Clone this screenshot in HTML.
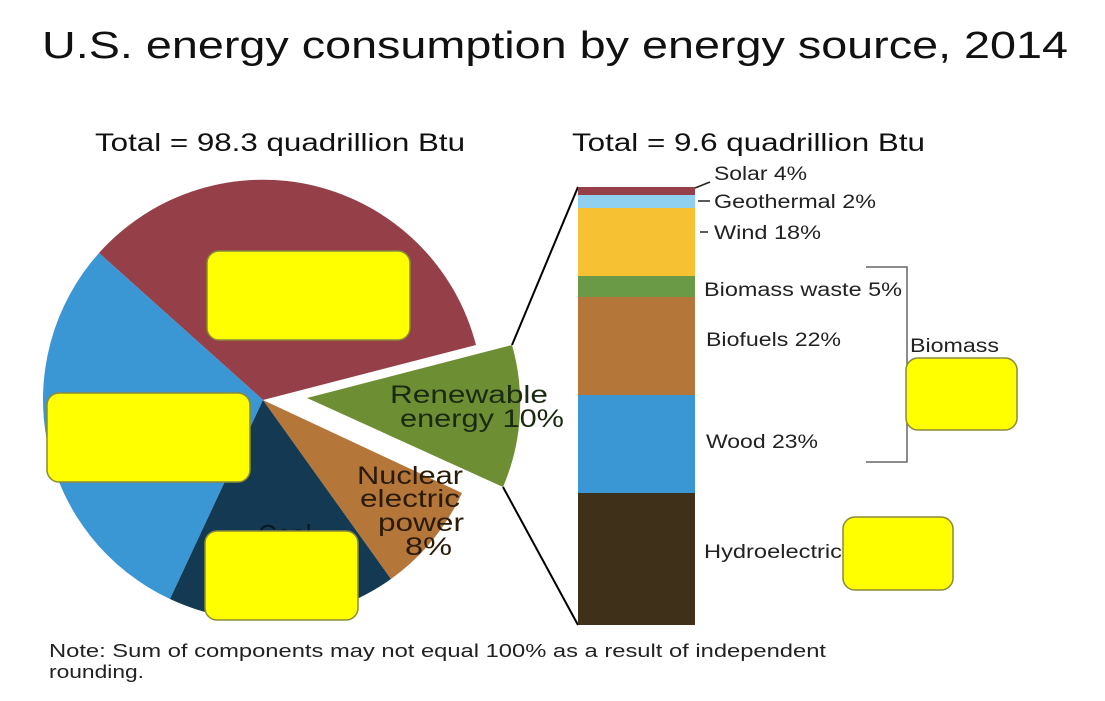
<!DOCTYPE html>
<html><head><style>
body{margin:0;background:#fff;}
svg{display:block;font-family:"Liberation Sans",sans-serif;}
</style></head><body>
<svg width="1105" height="701" viewBox="0 0 1105 701">
<text x="42" y="58" font-size="38" textLength="1026" lengthAdjust="spacingAndGlyphs" fill="#111">U.S. energy consumption by energy source, 2014</text>
<text x="95" y="151" font-size="25" textLength="370" lengthAdjust="spacingAndGlyphs" fill="#111">Total = 98.3 quadrillion Btu</text>
<text x="572" y="151" font-size="25" textLength="353" lengthAdjust="spacingAndGlyphs" fill="#111">Total = 9.6 quadrillion Btu</text>
<path d="M263,400 L99,253 A220,220 0 0 1 476,345 Z" fill="#954049"/>
<path d="M263,400 L99,253 A220,220 0 0 0 170,599 Z" fill="#3b96d4"/>
<path d="M263,400 L170,599 A220,220 0 0 0 391,579 Z" fill="#133a52"/>
<text x="258" y="543" font-size="26" fill="#000" opacity="0.6">Coal</text>
<path d="M263,400 L391,579 A220,220 0 0 0 462,493 Z" fill="#b5763a"/>
<path d="M307,398 L512,345 A212,212 0 0 1 503,487 Z" fill="#6e8e34"/>
<text x="390" y="403" font-size="25" textLength="158" lengthAdjust="spacingAndGlyphs" fill="#1a2a10">Renewable</text>
<text x="400" y="427" font-size="25" textLength="164" lengthAdjust="spacingAndGlyphs" fill="#1a2a10">energy 10%</text>
<g font-size="25" fill="#2a1a08">
<text x="357" y="484" textLength="106" lengthAdjust="spacingAndGlyphs">Nuclear</text>
<text x="360" y="507" textLength="100" lengthAdjust="spacingAndGlyphs">electric</text>
<text x="378" y="531" textLength="86" lengthAdjust="spacingAndGlyphs">power</text>
<text x="405" y="555" textLength="47" lengthAdjust="spacingAndGlyphs">8%</text></g>
<line x1="512" y1="345" x2="578" y2="187" stroke="#000" stroke-width="2"/>
<line x1="503" y1="487" x2="578" y2="625" stroke="#000" stroke-width="2"/>
<rect x="578" y="187" width="117" height="8" fill="#954049"/>
<rect x="578" y="195" width="117" height="13" fill="#8fd0f0"/>
<rect x="578" y="208" width="117" height="68" fill="#f6c132"/>
<rect x="578" y="276" width="117" height="21" fill="#6a9a45"/>
<rect x="578" y="297" width="117" height="98" fill="#b5763a"/>
<rect x="578" y="395" width="117" height="98" fill="#3b96d4"/>
<rect x="578" y="493" width="117" height="132" fill="#3e3019"/>
<g stroke="#222" stroke-width="1.5"><line x1="695" y1="188" x2="710" y2="182"/><line x1="698" y1="201" x2="710" y2="201"/><line x1="700" y1="232" x2="708" y2="232"/>
<polyline points="866,267 907,267 907,462 866,462" fill="none" stroke="#666"/></g>
<g font-size="19" fill="#222" lengthAdjust="spacingAndGlyphs">
<text x="714" y="180" textLength="93" lengthAdjust="spacingAndGlyphs">Solar 4%</text>
<text x="714" y="208" textLength="162" lengthAdjust="spacingAndGlyphs">Geothermal 2%</text>
<text x="714" y="239" textLength="107" lengthAdjust="spacingAndGlyphs">Wind 18%</text>
<text x="704" y="296" textLength="198" lengthAdjust="spacingAndGlyphs">Biomass waste 5%</text>
<text x="706" y="346" textLength="135" lengthAdjust="spacingAndGlyphs">Biofuels 22%</text>
<text x="706" y="448" textLength="112" lengthAdjust="spacingAndGlyphs">Wood 23%</text>
<text x="704" y="558" textLength="138" lengthAdjust="spacingAndGlyphs">Hydroelectric</text>
<text x="910" y="352" textLength="89" lengthAdjust="spacingAndGlyphs">Biomass</text></g>
<g fill="#ffff00" stroke="#8a8a3a" stroke-width="1.5">
<rect x="207" y="251" width="203" height="89" rx="12"/>
<rect x="47" y="393" width="203" height="89" rx="12"/>
<rect x="205" y="531" width="153" height="89" rx="12"/>
<rect x="906" y="358" width="111" height="72" rx="12"/>
<rect x="843" y="517" width="110" height="73" rx="12"/>
</g>
<text x="49" y="657" font-size="18" textLength="777" lengthAdjust="spacingAndGlyphs" fill="#222">Note: Sum of components may not equal 100% as a result  of independent</text>
<text x="49" y="678" font-size="18" textLength="95" lengthAdjust="spacingAndGlyphs" fill="#222">rounding.</text>
</svg>
</body></html>
